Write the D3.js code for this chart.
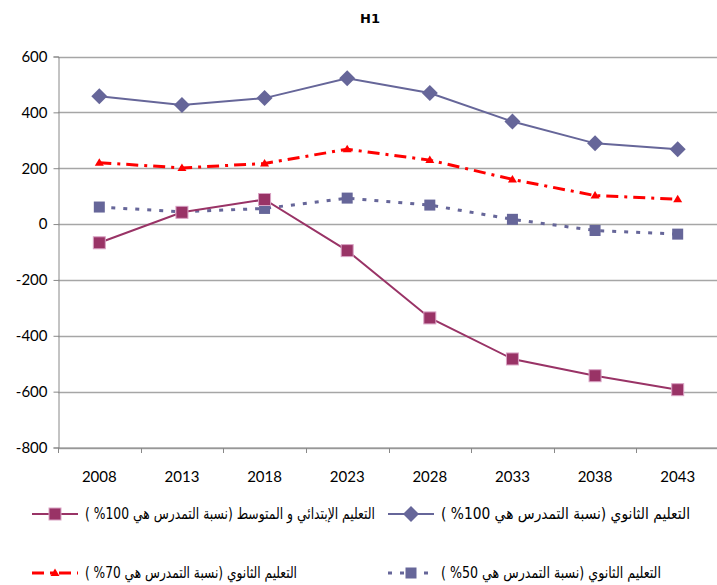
<!DOCTYPE html>
<html>
<head>
<meta charset="utf-8">
<script src="https://cdn.jsdelivr.net/npm/d3@7"></script>
<style>
  html, body { margin: 0; padding: 0; background: #fff; }
  svg { display: block; }
</style>
</head>
<body>
<svg id="chart" width="717" height="585"></svg>
<script>
// Years on the category axis
const years = ["2008", "2013", "2018", "2023", "2028", "2033", "2038", "2043"];

// Primary + middle education (enrolment 100%)
const primaryMiddle100 = [-67, 42, 88, -95, -336, -483, -543, -593];
// Secondary education (enrolment 100%)
const secondary100 = [458, 426, 451, 522, 469, 367, 289, 268];
// Secondary education (enrolment 70%)
const secondary70 = [220, 201, 217, 268, 229, 160, 102, 89];
// Secondary education (enrolment 50%)
const secondary50 = [61, 44, 56, 93, 68, 17, -23, -36];

const yTicks = [600, 400, 200, 0, -200, -400, -600, -800];

const labels = {
  primaryMiddle100: "التعليم  الإبتدائي و المتوسط (نسبة التمدرس هي 100% )",
  secondary100: "التعليم الثانوي (نسبة التمدرس هي 100% )",
  secondary70: "التعليم الثانوي (نسبة التمدرس هي 70% )",
  secondary50: "التعليم الثانوي (نسبة التمدرس هي 50% )"
};

const series = [
  { key: "primaryMiddle100", values: primaryMiddle100, color: "#993366", dash: null, width: 2, marker: "square" },
  { key: "secondary100", values: secondary100, color: "#666699", dash: null, width: 2, marker: "diamond" },
  { key: "secondary70", values: secondary70, color: "#ff0000", dash: "12,6,3,6", width: 3, marker: "triangle" },
  { key: "secondary50", values: secondary50, color: "#666699", dash: "4,8", width: 3, marker: "bluesquare" }
];

const svg = d3.select("#chart");
const plotLeft = 58, plotRight = 719, plotTop = 56.5, plotBottom = 447.5;

const x = d3.scaleBand().domain(years).range([plotLeft, plotRight]);
const y = d3.scaleLinear().domain([-800, 600]).range([plotBottom, plotTop]);

const numFont = "Lato, 'Open Sans', sans-serif";
const arFont = "'DejaVu Sans', sans-serif";

// Title
svg.append("text")
  .attr("x", 370).attr("y", 23)
  .attr("text-anchor", "middle")
  .attr("font-family", "'DejaVu Sans', sans-serif")
  .attr("font-weight", "bold")
  .attr("font-size", 13)
  .text("H1");

// Horizontal gridlines
svg.append("g")
  .selectAll("line")
  .data(yTicks)
  .join("line")
  .attr("x1", plotLeft).attr("x2", plotRight)
  .attr("y1", d => Math.round(y(d)) + 0.5).attr("y2", d => Math.round(y(d)) + 0.5)
  .attr("stroke", "#a6a6a6")
  .attr("stroke-width", 1.3);

// Y axis
const yAxis = d3.axisLeft(y).tickValues(yTicks).tickSize(5).tickPadding(6).tickFormat(d => String(d));
const gy = svg.append("g").attr("transform", `translate(${plotLeft + 0.5},0)`).call(yAxis);
gy.select(".domain").attr("stroke", "#888");
gy.selectAll(".tick line").attr("stroke", "#888");
gy.selectAll(".tick text")
  .attr("font-family", numFont)
  .attr("font-size", 15)
  .attr("fill", "#000");

// X axis at the bottom (ticks between categories)
const gx = svg.append("g").attr("transform", `translate(0,${plotBottom + 0.5})`);
gx.append("line").attr("x1", plotLeft).attr("x2", plotRight).attr("stroke", "#888");
gx.selectAll("line.tk")
  .data(years)
  .join("line")
  .attr("class", "tk")
  .attr("x1", d => Math.round(x(d)) + 0.5).attr("x2", d => Math.round(x(d)) + 0.5)
  .attr("y1", 0).attr("y2", 5)
  .attr("stroke", "#888");
gx.selectAll("text")
  .data(years)
  .join("text")
  .attr("x", d => x(d) + x.bandwidth() / 2)
  .attr("y", 34)
  .attr("text-anchor", "middle")
  .attr("font-family", numFont)
  .attr("font-size", 15)
  .text(d => d);

const cx = d => x(d) + x.bandwidth() / 2;

function drawMarker(g, type, color, px, py) {
  if (type === "square") {
    g.append("rect")
      .attr("x", px - 6).attr("y", py - 6).attr("width", 12).attr("height", 12)
      .attr("fill", color).attr("stroke", "#d9a3c4").attr("stroke-width", 1);
  } else if (type === "bluesquare") {
    g.append("rect")
      .attr("x", px - 5.5).attr("y", py - 5.5).attr("width", 11).attr("height", 11)
      .attr("fill", color);
  } else if (type === "diamond") {
    g.append("path")
      .attr("d", `M${px},${py - 8}L${px + 8},${py}L${px},${py + 8}L${px - 8},${py}Z`)
      .attr("fill", color);
  } else if (type === "triangle") {
    g.append("path")
      .attr("d", `M${px},${py - 4.5}L${px + 4.5},${py + 3}L${px - 4.5},${py + 3}Z`)
      .attr("fill", color);
  }
}

// Draw series in back-to-front order
const drawOrder = ["secondary50", "secondary70", "secondary100", "primaryMiddle100"];
const line = d3.line().x((d, i) => cx(years[i])).y(d => y(d));

drawOrder.forEach(k => {
  const s = series.find(v => v.key === k);
  const g = svg.append("g");
  g.append("path")
    .datum(s.values)
    .attr("d", line)
    .attr("fill", "none")
    .attr("stroke", s.color)
    .attr("stroke-width", s.width)
    .attr("stroke-dasharray", s.dash);
  s.values.forEach((v, i) => drawMarker(g, s.marker, s.color, cx(years[i]), y(v)));
});

// Legend: two rows, two entries each; text fitted to its slot width
const legendItems = [
  { key: "primaryMiddle100", lx: 32, ly: 514, tw: 290 },
  { key: "secondary100", lx: 388, ly: 514, tw: 249 },
  { key: "secondary70", lx: 32, ly: 573, tw: 212 },
  { key: "secondary50", lx: 388, ly: 573, tw: 220 }
];

legendItems.forEach(it => {
  const s = series.find(v => v.key === it.key);
  const g = svg.append("g");
  g.append("line")
    .attr("x1", it.lx).attr("x2", it.lx + 46)
    .attr("y1", it.ly).attr("y2", it.ly)
    .attr("stroke", s.color)
    .attr("stroke-width", s.width)
    .attr("stroke-dasharray", s.dash);
  drawMarker(g, s.marker, s.color, it.lx + 23, it.ly);
  g.append("text")
    .attr("x", it.lx + 53)
    .attr("y", it.ly + 5)
    .attr("direction", "rtl")
    .attr("text-anchor", "end")
    .attr("font-family", arFont)
    .attr("font-size", 15.5)
    .attr("textLength", it.tw)
    .attr("lengthAdjust", "spacingAndGlyphs")
    .text(labels[it.key]);
});
</script>
</body>
</html>
